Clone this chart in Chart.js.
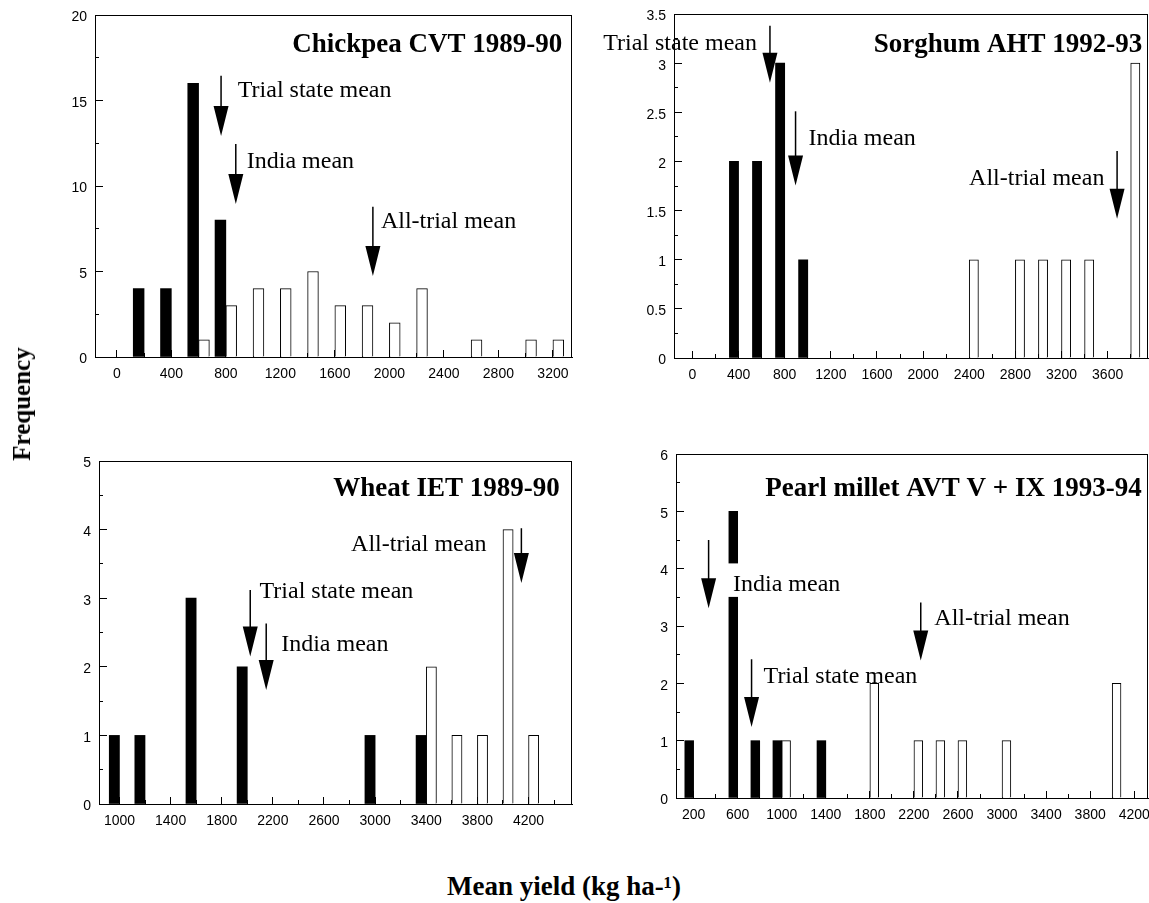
<!DOCTYPE html>
<html>
<head>
<meta charset="utf-8">
<script src="https://cdn.jsdelivr.net/npm/chart.js@4.4.1/dist/chart.umd.min.js"></script>
<style>
body{margin:0;background:#fff;width:1149px;height:903px;position:relative;overflow:hidden;font-family:"Liberation Serif","Times New Roman",serif;color:#000;}
canvas{position:absolute;}
#ytitle{position:absolute;left:22px;top:404px;transform:translate(-50%,-50%) rotate(-90deg);font-weight:bold;font-size:25px;white-space:nowrap;}
#xtitle{position:absolute;left:564px;top:886px;transform:translate(-50%,-50%);font-weight:bold;font-size:27px;white-space:nowrap;}
</style>
</head>
<body>
<canvas id="cp" width="575" height="390" style="left:0;top:0"></canvas>
<canvas id="sg" width="559" height="390" style="left:590px;top:0"></canvas>
<canvas id="wh" width="575" height="400" style="left:0;top:440px"></canvas>
<canvas id="pm" width="559" height="400" style="left:590px;top:440px"></canvas>
<div id="ytitle">Frequency</div>
<div id="xtitle">Mean yield (kg ha-¹)</div>
<script>
// labels of the three arrows, same order in every panel
const meanLabels = ['Trial state mean', 'India mean', 'All-trial mean'];

// Chickpea CVT 1989-90
const cpStateBins = [200, 400, 600, 800];
const cpStateFreq = [4, 4, 16, 8];
const cpOtherBins = [600, 800, 1000, 1200, 1400, 1600, 1800, 2000, 2200, 2600, 3000, 3200];
const cpOtherFreq = [1, 3, 4, 4, 5, 3, 3, 2, 4, 1, 1, 1];
const cpMeans = [765, 873, 1879];
const cpXTicks = [0, 400, 800, 1200, 1600, 2000, 2400, 2800, 3200];
const cpYTicks = [0, 5, 10, 15, 20];

// Sorghum AHT 1992-93
const sgStateBins = [400, 600, 800, 1000];
const sgStateFreq = [2, 2, 3, 1];
const sgOtherBins = [2400, 2800, 3000, 3200, 3400, 3800];
const sgOtherFreq = [1, 1, 1, 1, 1, 3];
const sgMeans = [672, 894, 3682];
const sgXTicks = [0, 400, 800, 1200, 1600, 2000, 2400, 2800, 3200, 3600];
const sgYTicks = [0, 0.5, 1, 1.5, 2, 2.5, 3, 3.5];

// Wheat IET 1989-90
const whStateBins = [1000, 1200, 1600, 2000, 3000, 3400];
const whStateFreq = [1, 1, 3, 2, 1, 1];
const whOtherBins = [3400, 3600, 3800, 4000, 4200];
const whOtherFreq = [2, 1, 1, 4, 1];
const whMeans = [2023, 2148, 4144];
const whXTicks = [1000, 1400, 1800, 2200, 2600, 3000, 3400, 3800, 4200];
const whYTicks = [0, 1, 2, 3, 4, 5];

// Pearl millet AVT V + IX 1993-94
const pmStateBins = [200, 600, 800, 1000, 1400];
const pmStateFreq = [1, 5, 1, 1, 1];
const pmOtherBins = [1000, 1800, 2200, 2400, 2600, 3000, 4000];
const pmOtherFreq = [1, 2, 1, 1, 1, 1, 2];
const pmMeans = [726, 336, 2262];
const pmXTicks = [200, 600, 1000, 1400, 1800, 2200, 2600, 3000, 3400, 3800, 4200];
const pmYTicks = [0, 1, 2, 3, 4, 5, 6];

Chart.defaults.font.family = '"Liberation Sans", Arial, sans-serif';
Chart.defaults.font.size = 14;
Chart.defaults.color = '#000';

// box, arrows, labels and panel title
const decor = {
  id: 'decor',
  afterDatasetsDraw(chart, args, o) {
    const {ctx, chartArea: a, scales: {x, y}} = chart;
    ctx.save();
    o.means.forEach((m, i) => {
      const k = o.marks[i];
      const px = x.getPixelForValue(m), tip = y.getPixelForValue(k.tip), tail = y.getPixelForValue(k.tail);
      const lx = px + k.dx, ly = y.getPixelForValue(k.ly) + 8;
      ctx.font = '24px "Liberation Serif"';
      ctx.textAlign = k.dx < 0 ? 'right' : 'left';
      ctx.textBaseline = 'alphabetic';
      if (k.bg) {
        let w = ctx.measureText(meanLabels[i]).width;
        ctx.fillStyle = '#fff';
        ctx.fillRect(lx - 5, ly - 28, w + 8, 33.5);
      }
      ctx.fillStyle = '#000';
      ctx.fillText(meanLabels[i], lx, ly);
      ctx.strokeStyle = '#000'; ctx.lineWidth = 1.5;
      ctx.beginPath(); ctx.moveTo(px, tail); ctx.lineTo(px, tip - 29); ctx.stroke();
      ctx.beginPath(); ctx.moveTo(px - 7.5, tip - 30); ctx.lineTo(px + 7.5, tip - 30); ctx.lineTo(px, tip); ctx.closePath(); ctx.fill();
    });
    ctx.lineWidth = 1;
    ctx.strokeRect(a.left + 0.5, a.top + 0.5, a.width - 1, a.height);
    ctx.font = 'bold 27px "Liberation Serif"';
    ctx.textAlign = 'right';
    ctx.fillText(o.title, a.right - o.tdx, a.top + o.tdy + 9);
    ctx.restore();
  }
};

function makePanel(id, p) {
  const lbl = v => String(v);
  new Chart(document.getElementById(id), {
    type: 'bar',
    data: {
      datasets: [
        {label: 'Trial state', data: p.state[0].map((b, i) => ({x: b, y: p.state[1][i]})),
         backgroundColor: '#000', borderWidth: 0, barThickness: p.thick},
        {label: 'Other', data: p.other[0].map((b, i) => ({x: b, y: p.other[1][i]})),
         backgroundColor: '#fff', borderColor: '#000', borderWidth: 1, barThickness: p.thick}
      ]
    },
    options: {
      responsive: false, animation: false,
      layout: {padding: {top: p.pad.top, right: p.pad.right, left: 0, bottom: 0}},
      plugins: {legend: {display: false}, tooltip: {enabled: false},
        decor: {means: p.means, marks: p.marks, title: p.title, tdx: p.tdx, tdy: p.tdy}},
      scales: {
        x: {type: 'linear', position: 'bottom', min: p.xMin, max: p.xMax, weight: 1, offset: false,
            afterBuildTicks: s => { s.ticks = p.xTicks.map(v => ({value: v})); },
            afterFit: s => { s.height = p.xh; s.paddingLeft = 0; s.paddingRight = 0; },
            grid: {drawOnChartArea: false, offset: false, tickLength: -7, color: '#000'},
            border: {display: true, color: '#000', width: 1},
            ticks: {padding: 16, autoSkip: false, maxRotation: 0, callback: lbl}},
        x2: {type: 'linear', position: 'bottom', min: p.xMin, max: p.xMax, weight: 0, offset: false,
            afterFit: s => { s.height = 0; s.paddingLeft = 0; s.paddingRight = 0; },
            grid: {drawOnChartArea: false, offset: false, tickLength: -4, color: '#000'},
            border: {display: false},
            ticks: {display: false, stepSize: 200, includeBounds: false, autoSkip: false}},
        y: {type: 'linear', position: 'left', min: 0, max: p.yMax, weight: 1,
            afterBuildTicks: s => { s.ticks = p.yTicks.map(v => ({value: v})); },
            afterFit: s => { s.width = p.yw; s.paddingTop = 0; s.paddingBottom = 0; },
            grid: {drawOnChartArea: false, tickLength: -8, color: '#000'},
            border: {display: true, color: '#000', width: 1},
            ticks: {padding: 16, labelOffset: 2.5, autoSkip: false, callback: lbl}},
        y2: {type: 'linear', position: 'left', min: 0, max: p.yMax, weight: 0,
            afterFit: s => { s.width = 0; s.paddingTop = 0; s.paddingBottom = 0; },
            grid: {drawOnChartArea: false, tickLength: -4, color: '#000'},
            border: {display: false},
            ticks: {display: false, stepSize: p.yMinor, includeBounds: false, autoSkip: false}}
      }
    },
    plugins: [decor]
  });
}

makePanel('cp', {
  state: [cpStateBins, cpStateFreq], other: [cpOtherBins, cpOtherFreq], means: cpMeans,
  xTicks: cpXTicks, yTicks: cpYTicks, xMin: -160, xMax: 3340, yMax: 20, yMinor: 2.5,
  thick: 10.8, yw: 95, xh: 33, pad: {top: 15, right: 3},
  title: 'Chickpea CVT 1989-90', tdx: 9.7, tdy: 27.7,
  marks: [{tip: 12.92, tail: 16.45, ly: 15.65, dx: 16.7},
          {tip: 8.95, tail: 12.46, ly: 11.52, dx: 11},
          {tip: 4.74, tail: 8.79, ly: 8.01, dx: 8}]
});

makePanel('sg', {
  state: [sgStateBins, sgStateFreq], other: [sgOtherBins, sgOtherFreq], means: sgMeans,
  xTicks: sgXTicks, yTicks: sgYTicks, xMin: -160, xMax: 3950, yMax: 3.5, yMinor: 0.25,
  thick: 9.2, yw: 84, xh: 32, pad: {top: 14, right: 1},
  title: 'Sorghum AHT 1992-93', tdx: 5.7, tdy: 29.3,
  marks: [{tip: 2.80, tail: 3.38, ly: 3.22, dx: -13},
          {tip: 1.755, tail: 2.51, ly: 2.253, dx: 13},
          {tip: 1.416, tail: 2.107, ly: 1.846, dx: -12.7}]
});

makePanel('wh', {
  state: [whStateBins, whStateFreq], other: [whOtherBins, whOtherFreq], means: whMeans,
  xTicks: whXTicks, yTicks: whYTicks, xMin: 840, xMax: 4540, yMax: 5, yMinor: 0.5,
  thick: 10.2, yw: 99, xh: 36, pad: {top: 21, right: 3},
  title: 'Wheat IET 1989-90', tdx: 12.3, tdy: 26,
  marks: [{tip: 2.15, tail: 3.12, ly: 3.12, dx: 9.3},
          {tip: 1.66, tail: 2.63, ly: 2.343, dx: 15},
          {tip: 3.22, tail: 4.02, ly: 3.807, dx: -35}]
});

makePanel('pm', {
  state: [pmStateBins, pmStateFreq], other: [pmOtherBins, pmOtherFreq], means: pmMeans,
  xTicks: pmXTicks, yTicks: pmYTicks, xMin: 40, xMax: 4325, yMax: 6, yMinor: 0.5,
  thick: 8.8, yw: 86, xh: 42, pad: {top: 14, right: 1},
  title: 'Pearl millet AVT V + IX 1993-94', tdx: 6.3, tdy: 32.7,
  marks: [{tip: 1.24, tail: 2.42, ly: 2.142, dx: 12},
          {tip: 3.31, tail: 4.50, ly: 3.743, dx: 24.4, bg: true},
          {tip: 2.40, tail: 3.41, ly: 3.16, dx: 13.6}]
});
</script>
</body>
</html>
